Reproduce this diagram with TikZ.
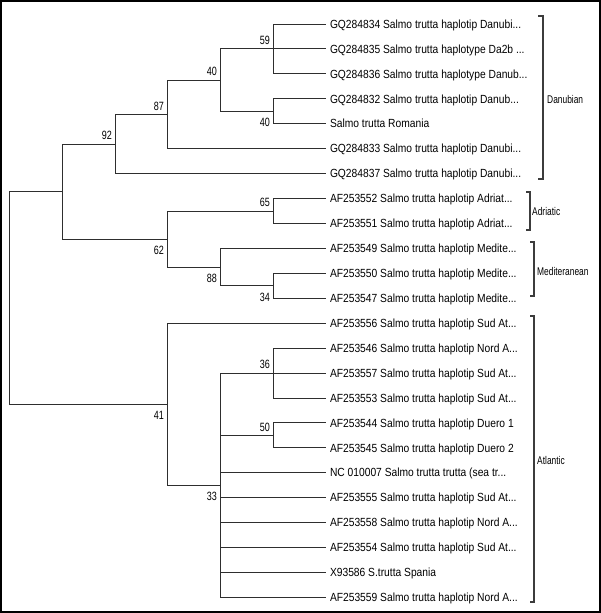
\documentclass[tikz,border=0pt]{standalone}
\usepackage{fontspec}
\newfontfamily\leaffont{Liberation Sans}[FakeStretch=0.87]
\newfontfamily\narrowfont{Liberation Sans}[FakeStretch=0.75]
\usetikzlibrary{positioning}
\definecolor{branchG}{HTML}{2E2E2E}
\definecolor{bracketG}{HTML}{3C3C3C}

\begin{document}
\begin{tikzpicture}[
  x=1pt, y=-1pt,
  branch/.style={draw=branchG, line width=0.9pt},
  brk/.style={draw=bracketG, line width=1.2pt},
  leaf/.style={
    anchor=west, inner sep=0pt, outer xsep=4pt,
    font=\leaffont\fontsize{11.8}{12}\selectfont,
    text height=8.45pt, text depth=0pt
  },
  boot/.style={
    inner sep=0pt,
    font=\narrowfont\fontsize{12}{12}\selectfont,
    text height=8.6pt, text depth=0pt
  },
  bootup/.style={boot, anchor=south east, xshift=-3pt, yshift=4pt},
  bootdown/.style={boot, anchor=north east, xshift=-3pt, yshift=-6.5pt},
  grp/.style={
    anchor=west, inner sep=0pt,
    font=\narrowfont\fontsize{11.2}{12}\selectfont,
    text height=8pt, text depth=0pt
  }
]
\useasboundingbox (0,0) rectangle (601,613);
\draw[line width=2pt] (1,1) rectangle (600,612);

%% ═══ LEAVES ═══
\foreach \i/\name in {
  1/{GQ284834 Salmo trutta haplotip Danubi...},
  2/{GQ284835 Salmo trutta haplotype Da2b ...},
  3/{GQ284836 Salmo trutta haplotype Danub...},
  4/{GQ284832 Salmo trutta haplotip Danub...},
  5/{Salmo trutta Romania},
  6/{GQ284833 Salmo trutta haplotip Danubi...},
  7/{GQ284837 Salmo trutta haplotip Danubi...},
  8/{AF253552 Salmo trutta haplotip Adriat...},
  9/{AF253551 Salmo trutta haplotip Adriat...},
  10/{AF253549 Salmo trutta haplotip Medite...},
  11/{AF253550 Salmo trutta haplotip Medite...},
  12/{AF253547 Salmo trutta haplotip Medite...},
  13/{AF253556 Salmo trutta haplotip Sud At...},
  14/{AF253546 Salmo trutta haplotip Nord A...},
  15/{AF253557 Salmo trutta haplotip Sud At...},
  16/{AF253553 Salmo trutta haplotip Sud At...},
  17/{AF253544 Salmo trutta haplotip Duero 1},
  18/{AF253545 Salmo trutta haplotip Duero 2},
  19/{NC 010007 Salmo trutta trutta (sea tr...},
  20/{AF253555 Salmo trutta haplotip Sud At...},
  21/{AF253558 Salmo trutta haplotip Nord A...},
  22/{AF253554 Salmo trutta haplotip Sud At...},
  23/{X93586 S.trutta Spania},
  24/{AF253559 Salmo trutta haplotip Nord A...}}
  \node[leaf] (t\i) at (326, {24+(\i-1)*24.93}) {\name};

%% ═══ INTERNAL NODES ═══
\coordinate (n59)  at (273, 48.9);
\coordinate (n40b) at (273, 111.25);
\coordinate (n40a) at (220, 80.1);
\coordinate (n87)  at (167, 114.4);
\coordinate (n92)  at (115, 144);
\coordinate (n65)  at (273, 211);
\coordinate (n34)  at (273, 285.75);
\coordinate (n88)  at (220, 267.1);
\coordinate (n62)  at (167, 239);
\coordinate (nEur) at (62, 191.5);
\coordinate (n36)  at (273, 373);
\coordinate (n50)  at (273, 435.35);
\coordinate (n33)  at (220, 485.2);
\coordinate (n41)  at (167, 404.2);
\coordinate (root) at (9, 297.85);

%% ═══ BRANCHES ═══
\foreach \c in {t1,t2,t3} \draw[branch] (n59) |- (\c.west);
\foreach \c in {t4,t5} \draw[branch] (n40b) |- (\c.west);
\draw[branch] (n40a) |- (n59) (n40a) |- (n40b);
\draw[branch] (n87) |- (n40a) (n87) |- (t6.west);
\draw[branch] (n92) |- (n87) (n92) |- (t7.west);
\foreach \c in {t8,t9} \draw[branch] (n65) |- (\c.west);
\foreach \c in {t11,t12} \draw[branch] (n34) |- (\c.west);
\draw[branch] (n88) |- (t10.west) (n88) |- (n34);
\draw[branch] (n62) |- (n65) (n62) |- (n88);
\draw[branch] (nEur) |- (n92) (nEur) |- (n62);
\foreach \c in {t14,t15,t16} \draw[branch] (n36) |- (\c.west);
\foreach \c in {t17,t18} \draw[branch] (n50) |- (\c.west);
\draw[branch] (n33) |- (n36) (n33) |- (n50);
\foreach \c in {t19,t20,t21,t22,t23,t24} \draw[branch] (n33) |- (\c.west);
\draw[branch] (n41) |- (t13.west) (n41) |- (n33);
\draw[branch] (root) |- (nEur) (root) |- (n41);

%% ═══ BOOTSTRAP ═══
\node[bootup]   (b59)  at (n59)  {59};
\node[bootup]   (b40a) at (n40a) {40};
\node[bootdown] (b40b) at (n40b) {40};
\node[bootup]   (b87)  at (n87)  {87};
\node[bootup]   (b92)  at (n92)  {92};
\node[bootup]   (b65)  at (n65)  {65};
\node[bootdown] (b62)  at (n62)  {62};
\node[bootdown] (b88)  at (n88)  {88};
\node[bootdown] (b34)  at (n34)  {34};
\node[bootup]   (b36)  at (n36)  {36};
\node[bootup]   (b50)  at (n50)  {50};
\node[bootdown] (b33)  at (n33)  {33};
\node[bootdown] (b41)  at (n41)  {41};

%% ═══ GROUPS ═══
\draw[brk] (538,16) -- (543,16) -- (543,179) -- (538,179);
\node[grp] (danubian) at (547,99) {Danubian};

\draw[brk] (526,192) -- (530,192) -- (530,230) -- (526,230);
\node[grp] (adriatic) at (532,211) {Adriatic};

\draw[brk] (530,242) -- (534,242) -- (534,296) -- (530,296);
\node[grp] (medit) at (537,271) {Mediteranean};

\draw[brk] (530,316) -- (534,316) -- (534,602) -- (530,602);
\node[grp] (atlantic) at (537,460) {Atlantic};

\end{tikzpicture}
\end{document}
